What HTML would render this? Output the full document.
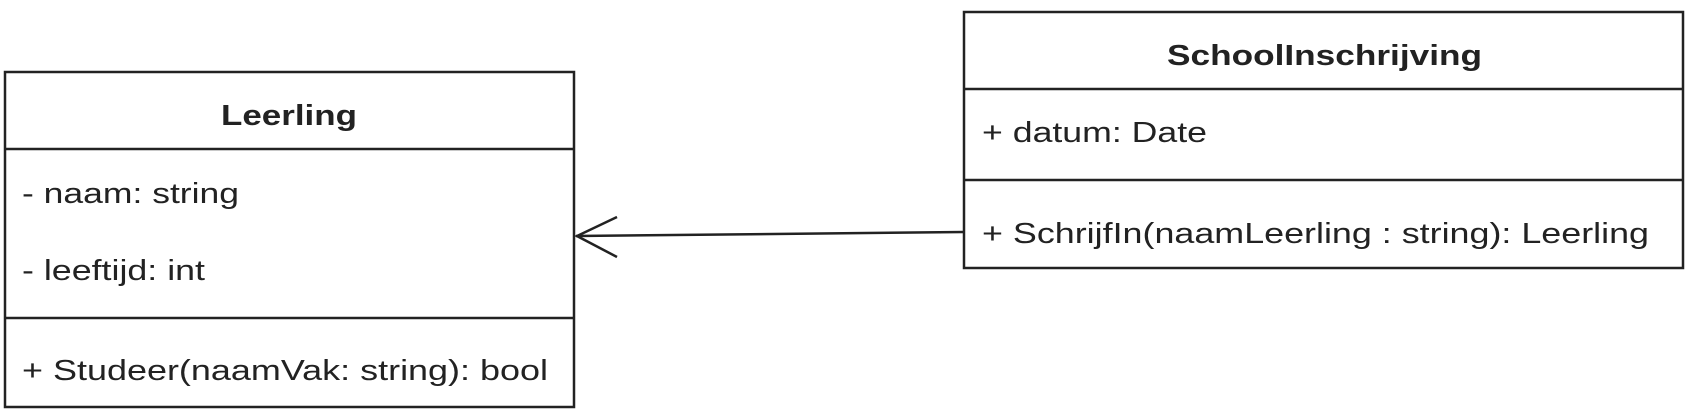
<!DOCTYPE html>
<html><head><meta charset="utf-8"><style>
html,body{margin:0;padding:0;background:#fff;}
svg{display:block;}
text{font-family:"Liberation Sans",Arial,sans-serif;fill:#222;}
</style></head><body>
<svg width="1690" height="414" viewBox="0 0 1690 414" xmlns="http://www.w3.org/2000/svg">
<g fill="none" stroke="#222" stroke-width="2.5">
<rect x="5" y="72" width="569" height="335"/>
<line x1="5" y1="149" x2="574" y2="149"/>
<line x1="5" y1="318" x2="574" y2="318"/>
<rect x="964" y="12" width="719" height="256"/>
<line x1="964" y1="89" x2="1683" y2="89"/>
<line x1="964" y1="180" x2="1683" y2="180"/>
<line x1="964" y1="232" x2="576" y2="236"/>
<polyline points="617,217 577,236 617,257"/>
</g>
<text x="221" y="125" font-size="29" font-weight="bold" textLength="136" lengthAdjust="spacingAndGlyphs">Leerling</text>
<text x="22" y="203" font-size="29" textLength="217" lengthAdjust="spacingAndGlyphs">- naam: string</text>
<text x="22" y="280" font-size="29" textLength="183" lengthAdjust="spacingAndGlyphs">- leeftijd: int</text>
<text x="22" y="380" font-size="29" textLength="526" lengthAdjust="spacingAndGlyphs">+ Studeer(naamVak: string): bool</text>
<text x="1167" y="65" font-size="29" font-weight="bold" textLength="315" lengthAdjust="spacingAndGlyphs">SchoolInschrijving</text>
<text x="982" y="142" font-size="29" textLength="225" lengthAdjust="spacingAndGlyphs">+ datum: Date</text>
<text x="982" y="243" font-size="29" textLength="667" lengthAdjust="spacingAndGlyphs">+ SchrijfIn(naamLeerling : string): Leerling</text>
</svg>
</body></html>
